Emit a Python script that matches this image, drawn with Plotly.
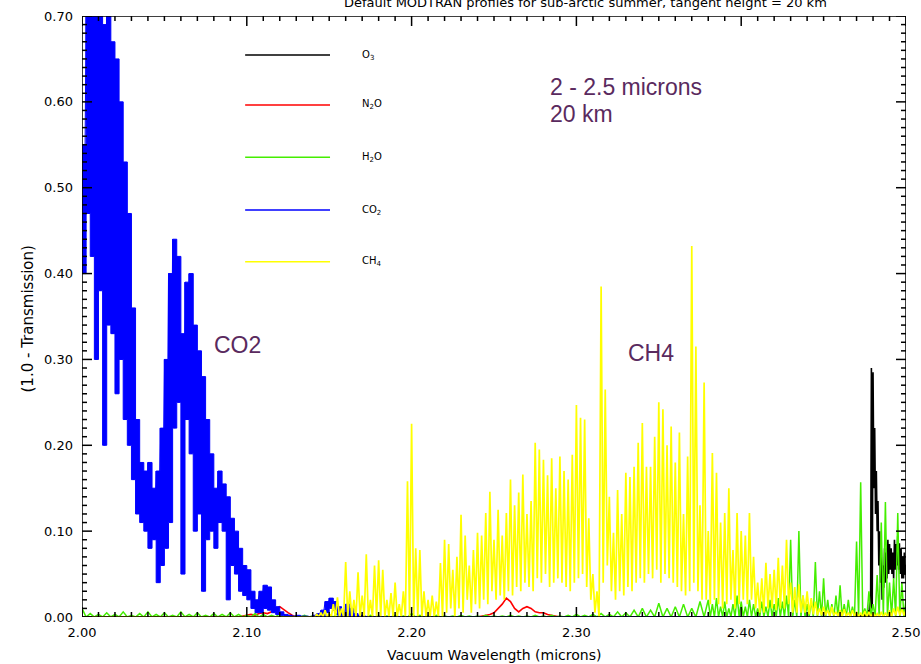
import numpy as np
import plotly.graph_objects as go

# ---------------- data (values in units of 0.001) ----------------
# CO2: wavelength grid 2.0000 .. 2.1975 step 0.0025 ; line peaks (hi) and troughs (lo)
co2_start, co2_step = 2.0, 0.0025
co2_hi = [550, 700, 760, 740, 700, 690, 760, 670, 650, 600,
          530, 470, 360, 230, 180, 170, 180, 150, 170, 220,
          300, 400, 440, 420, 330, 390, 400, 340, 310, 280,
          230, 190, 150, 170, 155, 140, 115, 100, 80, 60,
          55, 30, 20, 30, 37, 35, 20, 12, 6, 3,
          2, 1, 2, 1, 1, 0, 2, 4, 8, 18,
          22, 18, 12, 5, 15, 10, 4, 2, 1, 0,
          0, 0, 0, 0, 0, 0, 0, 0, 0, 0]
co2_lo = [400, 470, 420, 300, 380, 200, 340, 330, 260, 300,
          230, 200, 160, 120, 110, 100, 80, 90, 40, 60,
          80, 110, 220, 250, 50, 230, 190, 100, 120, 30,
          90, 100, 80, 110, 100, 20, 60, 50, 30, 25,
          20, 10, 5, 5, 10, 8, 5, 3, 2, 1,
          0, 0, 0, 0, 0, 0, 0, 0, 0, 5,
          10, 8, 2, 0, 2, 0, 0, 0, 0, 0,
          0, 0, 0, 0, 0, 0, 0, 0, 0, 0]
co2_tail_wl = [2.20, 2.50]
co2_tail = [0, 0]

# CH4: wavelength grid 2.1400 .. 2.5000 step 0.0025
ch4_start, ch4_step = 2.14, 0.0025
ch4_hi = [0, 3, 5, 8, 4, 15, 23, 10, 64, 30,
          20, 52, 25, 73, 20, 60, 66, 55, 20, 28,
          40, 15, 30, 158, 225, 80, 78, 30, 20, 25,
          18, 63, 90, 85, 55, 70, 119, 95, 60, 78,
          98, 95, 121, 146, 90, 125, 95, 121, 160, 130,
          145, 166, 120, 135, 203, 195, 183, 165, 185, 150,
          187, 170, 160, 189, 247, 232, 230, 115, 50, 30,
          385, 265, 140, 98, 148, 120, 168, 163, 175, 203,
          226, 175, 175, 210, 250, 242, 200, 222, 180, 215,
          120, 187, 432, 315, 130, 273, 100, 191, 168, 110,
          121, 150, 78, 121, 100, 95, 121, 70, 40, 45,
          63, 50, 55, 69, 60, 90, 40, 35, 38, 25,
          30, 22, 18, 10, 12, 8, 12, 6, 8, 9,
          5, 8, 6, 5, 7, 6, 5, 4, 6, 5,
          8, 10, 12, 10, 8]
ch4_lo = [0, 0, 0, 0, 0, 0, 0, 0, 0, 0,
          0, 0, 0, 0, 0, 0, 0, 0, 0, 0,
          0, 0, 0, 0, 0, 0, 0, 0, 0, 0,
          0, 0, 5, 10, 0, 10, 5, 20, 5, 15,
          10, 20, 15, 30, 20, 25, 20, 30, 25, 35,
          30, 40, 35, 30, 45, 40, 50, 35, 40, 45,
          40, 35, 30, 40, 45, 50, 35, 20, 5, 0,
          40, 60, 30, 20, 30, 25, 35, 30, 40, 45,
          40, 50, 45, 55, 40, 50, 45, 40, 35, 30,
          25, 30, 40, 30, 20, 20, 15, 20, 15, 10,
          15, 20, 10, 15, 20, 15, 20, 10, 5, 5,
          10, 10, 8, 10, 10, 15, 5, 5, 5, 5,
          3, 3, 2, 2, 2, 1, 2, 1, 1, 1,
          0, 1, 0, 0, 0, 0, 0, 0, 0, 0,
          0, 2, 2, 2, 2]
ch4_head_wl = [2.00, 2.14]
ch4_head = [0, 0]

# H2O: coarse part 2.000 .. 2.375 step 0.005, fine part 2.380 .. 2.500 step 0.0025 (peaks)
h2o_a_start, h2o_a_step = 2.0, 0.005
h2o_a = [10, 4, 3, 5, 3, 6, 2, 4, 6, 3,
         5, 2, 6, 3, 5, 2, 4, 3, 5, 3,
         2, 4, 3, 2, 4, 2, 1, 2, 1, 3,
         2, 4, 2, 3, 1, 2, 1, 1, 2, 1,
         4, 2, 1, 2, 1, 1, 2, 1, 1, 2,
         1, 1, 2, 1, 1, 2, 1, 2, 1, 2,
         3, 2, 3, 4, 3, 6, 5, 8, 10, 8,
         16, 10, 12, 15, 10, 18]
h2o_b_start, h2o_b_step = 2.38, 0.0025
h2o_b = [20, 15, 22, 12, 18, 10, 15, 25, 18, 12,
         20, 15, 10, 18, 12, 20, 15, 22, 18, 25,
         90, 20, 100, 25, 15, 20, 64, 30, 45, 20,
         15, 25, 37, 15, 20, 12, 88, 157, 10, 30,
         15, 49, 110, 134, 40, 45, 121, 40, 20]

# N2O: two bands, step 0.0025
n2o_a_start = 2.095
n2o_a = [0, 1, 2, 3, 2, 4, 5, 4, 6, 10, 12, 8, 5, 2, 0]
n2o_b_start = 2.24
n2o_b = [0, 1, 2, 3, 5, 10, 15, 22, 18, 10, 6, 10, 12, 10, 6, 5, 5, 3, 2, 1, 0]
n2o_step = 0.0025

# O3: 2.470 .. 2.500 step 0.001
o3_start, o3_step = 2.47, 0.001
o3_hi = [0, 2, 1, 3, 2, 4, 5, 8, 20, 290, 285, 220, 170, 135, 100, 78,
         60, 80, 75, 90, 85, 80, 75, 90, 85, 95, 86, 80, 70, 75, 60]
o3_lo = [0, 0, 0, 0, 0, 0, 0, 0, 2, 10, 150, 120, 100, 60, 40, 20,
         34, 40, 45, 50, 55, 50, 45, 55, 60, 55, 50, 45, 45, 50, 40]
o3_head_wl = [2.00, 2.47]
o3_head = [0, 0]

legend_names = ["O<sub>3</sub>", "N<sub>2</sub>O", "H<sub>2</sub>O", "CO<sub>2</sub>", "CH<sub>4</sub>"]
colors = ["#000000", "#ff0000", "#44ee00", "#0000ff", "#ffff00"]

x_major = [2.0, 2.1, 2.2, 2.3, 2.4, 2.5]
y_major = [0.0, 0.1, 0.2, 0.3, 0.4, 0.5, 0.6, 0.7]
x_minor_step, y_minor_step = 0.01, 0.01

W, H = 921, 664
M_L, M_R, M_T, M_B = 82, 15, 16, 47
PW, PH = W - M_L - M_R, H - M_T - M_B
X0, X1 = x_major[0], x_major[-1]
Y0, Y1 = y_major[0], y_major[-1]


def grid(start, step, n):
    return [start + i * step for i in range(n)]


def zigzag(wl, hi, lo, half):
    xs, ys = [], []
    for w, h, l in zip(wl, hi, lo):
        xs += [w, w + half]
        ys += [h / 1000.0, l / 1000.0]
    return xs, ys


fig = go.Figure()

# O3
xs, ys = zigzag(grid(o3_start, o3_step, len(o3_hi)), o3_hi, o3_lo, o3_step / 2)
fig.add_trace(go.Scatter(x=o3_head_wl + xs, y=[v / 1000 for v in o3_head] + ys, mode="lines",
                         line=dict(color=colors[0], width=1.6)))
# N2O
for st, vals in ((n2o_a_start, n2o_a), (n2o_b_start, n2o_b)):
    fig.add_trace(go.Scatter(x=grid(st, n2o_step, len(vals)), y=[v / 1000 for v in vals],
                             mode="lines", line=dict(color=colors[1], width=1.6)))
# H2O
xa, ya = zigzag(grid(h2o_a_start, h2o_a_step, len(h2o_a)), h2o_a, [0] * len(h2o_a), h2o_a_step / 2)
xb, yb = zigzag(grid(h2o_b_start, h2o_b_step, len(h2o_b)), h2o_b, [0] * len(h2o_b), h2o_b_step / 2)
fig.add_trace(go.Scatter(x=xa + xb, y=ya + yb, mode="lines", line=dict(color=colors[2], width=1.5)))
# CO2: dense band between troughs and peaks (stepped, like the dense line forest)
co2_wl = grid(co2_start, co2_step, len(co2_hi))
fig.add_trace(go.Scatter(x=co2_wl, y=[v / 1000 for v in co2_lo], mode="lines", line_shape="hv",
                         line=dict(color=colors[3], width=1)))
fig.add_trace(go.Scatter(x=co2_wl, y=[v / 1000 for v in co2_hi], mode="lines", line_shape="hv",
                         fill="tonexty", fillcolor=colors[3], line=dict(color=colors[3], width=1)))
xs, ys = zigzag(co2_wl, co2_hi, co2_lo, co2_step / 2)
fig.add_trace(go.Scatter(x=xs + co2_tail_wl, y=ys + [v / 1000 for v in co2_tail], mode="lines",
                         line=dict(color=colors[3], width=1)))
# CH4
xs, ys = zigzag(grid(ch4_start, ch4_step, len(ch4_hi)), ch4_hi, ch4_lo, ch4_step / 2)
fig.add_trace(go.Scatter(x=ch4_head_wl + xs, y=[v / 1000 for v in ch4_head] + ys, mode="lines",
                         line=dict(color=colors[4], width=1.7)))

# ---- tick marks on all four sides (IDL-style box), drawn as one line trace ----
# tick lengths converted from pixels to axis units using the plot size
x_per_px = (X1 - X0) / PW
y_per_px = (Y1 - Y0) / PH
x_minor = [round(X0 + i * x_minor_step, 4) for i in range(int(round((X1 - X0) / x_minor_step)) + 1)]
y_minor = [round(Y0 + i * y_minor_step, 4) for i in range(int(round((Y1 - Y0) / y_minor_step)) + 1)]
tx, ty = [], []
for xv in x_minor:
    n = 10 if any(abs(xv - m) < 1e-6 for m in x_major) else 5
    L = n * y_per_px
    tx += [xv, xv, None, xv, xv, None]
    ty += [Y0, Y0 + L, None, Y1, Y1 - L, None]
for yv in y_minor:
    n = 10 if any(abs(yv - m) < 1e-6 for m in y_major) else 5
    L = n * x_per_px
    tx += [X0, X0 + L, None, X1, X1 - L, None]
    ty += [yv, yv, None, yv, yv, None]
# frame
tx += [X0, X1, X1, X0, X0]
ty += [Y0, Y0, Y1, Y1, Y0]
fig.add_trace(go.Scatter(x=tx, y=ty, mode="lines", line=dict(color="black", width=1.5),
                         hoverinfo="skip", cliponaxis=False, connectgaps=False))

tickfont = dict(family="DejaVu Sans", size=13, color="black")
axis_common = dict(ticks="", showline=False, showgrid=False, zeroline=False,
                   automargin=False, tickformat=".2f", tickfont=tickfont)
fig.update_xaxes(range=[X0, X1], tickvals=x_major, ticklabelstandoff=6, **axis_common)
fig.update_yaxes(range=[Y0, Y1], tickvals=y_major, ticklabelstandoff=8, **axis_common)

# axis titles
fig.add_annotation(xref="paper", yref="paper", x=0.5, y=0, yshift=-38, text="Vacuum Wavelength (microns)",
                   showarrow=False, xanchor="center", yanchor="middle",
                   font=dict(family="DejaVu Sans", size=14, color="black"))
fig.add_annotation(xref="paper", yref="paper", x=0, xshift=-54, y=0.495, text="(1.0 - Transmission)",
                   textangle=-90, showarrow=False, xanchor="center", yanchor="middle",
                   font=dict(family="DejaVu Sans", size=15, color="black"))

# manual legend (as in the original)
leg_y = [0.935, 0.852, 0.765, 0.677, 0.591]
for name, col, yy in zip(legend_names, colors, leg_y):
    fig.add_shape(type="line", xref="paper", yref="paper", x0=0.198, x1=0.301, y0=yy, y1=yy,
                  line=dict(color=col, width=1.5))
    fig.add_annotation(xref="paper", yref="paper", x=0.337, y=yy, text=name, showarrow=False,
                       xanchor="left", yanchor="middle",
                       font=dict(family="DejaVu Sans", size=10, color="black"))

purple = "#5a2a5e"
for txt, ypx in (("2 - 2.5 microns", 87), ("20 km", 114)):
    fig.add_annotation(xref="paper", yref="paper", x=(548 - M_L) / PW, y=(H - M_B - ypx) / PH,
                       text=txt, showarrow=False, xanchor="left", yanchor="middle",
                       font=dict(family="Liberation Sans", size=23, color=purple))
fig.add_annotation(xref="paper", yref="paper", x=(237 - M_L) / PW, y=(H - M_B - 345) / PH,
                   text="CO2", showarrow=False, xanchor="center", yanchor="middle",
                   font=dict(family="Liberation Sans", size=23, color=purple))
fig.add_annotation(xref="paper", yref="paper", x=(651 - M_L) / PW, y=(H - M_B - 353) / PH,
                   text="CH4", showarrow=False, xanchor="center", yanchor="middle",
                   font=dict(family="Liberation Sans", size=23, color=purple))

# title (partly cut off at top, as in the reference)
fig.add_annotation(xref="paper", yref="paper", x=(585 - M_L) / PW, y=1, yshift=4,
                   text="Default MODTRAN profiles for sub-arctic summer, tangent height = 20 km",
                   showarrow=False, xanchor="center", yanchor="bottom",
                   font=dict(family="DejaVu Sans", size=13, color="black"))

fig.update_layout(template="none", width=W, height=H, margin=dict(l=M_L, r=M_R, t=M_T, b=M_B),
                  paper_bgcolor="white", plot_bgcolor="white", showlegend=False,
                  font=dict(family="DejaVu Sans", color="black"))

fig.write_html("out.html")
